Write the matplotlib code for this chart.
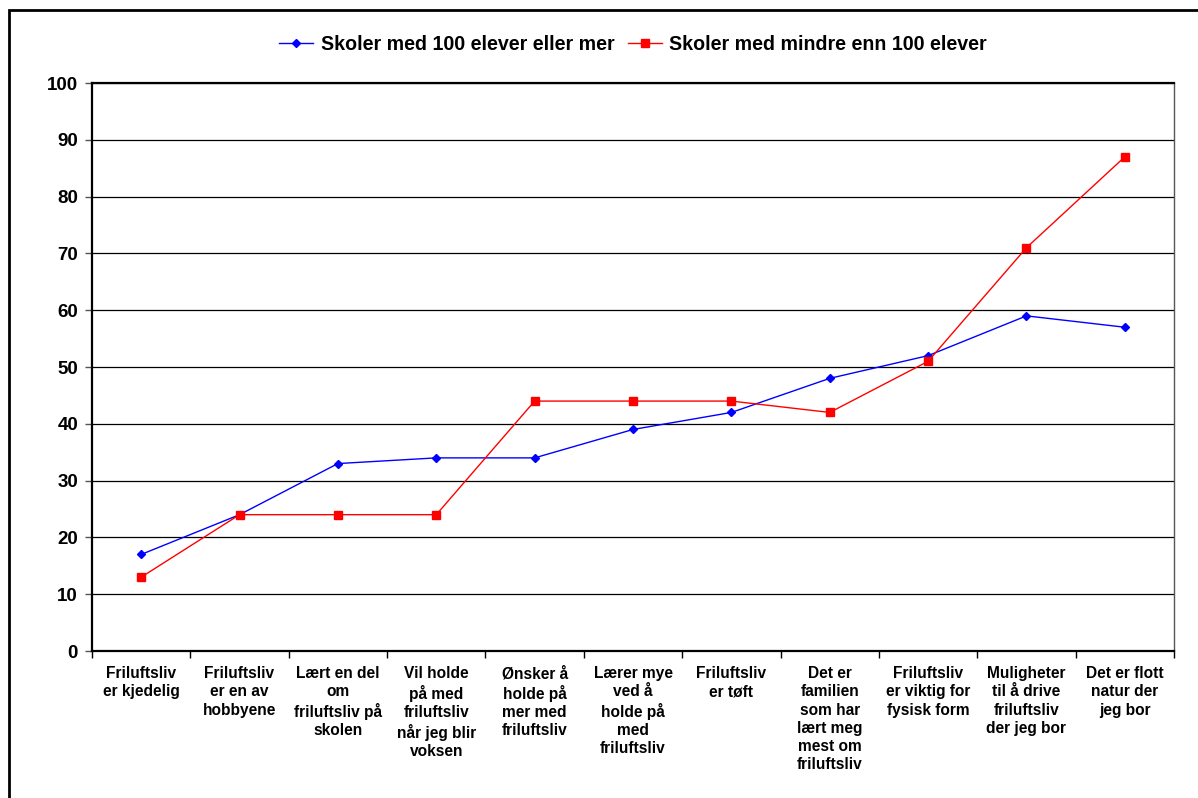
import matplotlib
matplotlib.use('Agg')
import matplotlib.pyplot as plt
from matplotlib.patches import Rectangle

#%% DATA

categories = ['Friluftsliv\ner kjedelig',
              'Friluftsliv\ner en av\nhobbyene',
              'Lært en del\nom\nfriluftsliv på\nskolen',
              'Vil holde\npå med\nfriluftsliv\nnår jeg blir\nvoksen',
              'Ønsker å\nholde på\nmer med\nfriluftsliv',
              'Lærer mye\nved å\nholde på\nmed\nfriluftsliv',
              'Friluftsliv\ner tøft',
              'Det er\nfamilien\nsom har\nlært meg\nmest om\nfriluftsliv',
              'Friluftsliv\ner viktig for\nfysisk form',
              'Muligheter\ntil å drive\nfriluftsliv\nder jeg bor',
              'Det er flott\nnatur der\njeg bor']

store = [17, 24, 33, 34, 34, 39, 42, 48, 52, 59, 57]
sma = [13, 24, 24, 24, 44, 44, 44, 42, 51, 71, 87]

label_store = 'Skoler med 100 elever eller mer'
label_sma = 'Skoler med mindre enn 100 elever'

#%% PLOT

plt.rcParams['font.family'] = ['Liberation Sans', 'DejaVu Sans']
plt.rcParams['font.weight'] = 'bold'

W, H = 1198, 798
fig = plt.figure(figsize=(W/100, H/100), dpi=100)
ax = fig.add_axes([92/W, 1 - 651/H, (1174-92)/W, (651-83)/H])

x = list(range(len(categories)))
ax.plot(x, store, color='#0000ff', lw=1.0, marker='D', ms=4.5,
        label=label_store)
ax.plot(x, sma, color='#ff0000', lw=1.0, marker='s', ms=5.5,
        label=label_sma)

ax.set_xlim(-0.5, len(categories) - 0.5)
ax.set_ylim(0, 100)
ax.set_yticks(range(0, 101, 10))
ax.yaxis.grid(True, color='black', lw=0.9)
ax.set_axisbelow(True)

ax.set_xticks(x)
ax.set_xticklabels(categories, fontsize=11.2, fontweight='bold',
                   linespacing=1.26, va='top')
ax.set_xticks([i - 0.5 for i in range(len(categories) + 1)], minor=True)
ax.tick_params(axis='x', which='major', length=0, pad=11)
ax.tick_params(axis='x', which='minor', length=5, width=1, color='black')
ax.tick_params(axis='y', length=5, width=1, color='#555555', pad=5,
               labelsize=13.5)
for lab in ax.get_yticklabels():
    lab.set_fontweight('bold')

for side in ['left', 'top', 'bottom']:
    ax.spines[side].set_linewidth(1.6)
    ax.spines[side].set_color('black')
ax.spines['right'].set_linewidth(1.0)
ax.spines['right'].set_color('#555555')

fig.legend(loc='center', bbox_to_anchor=(633/W, 1 - 44/H), ncol=2,
           frameon=False, handlelength=1.75, columnspacing=0.7,
           handletextpad=0.37, prop={'weight': 'bold', 'size': 14.1})

# outer frame
fig.patches.append(Rectangle((9/W, -0.05), 1.2, 1 - 10/H + 0.05,
                             transform=fig.transFigure, fill=False,
                             lw=2, ec='black'))

fig.savefig('out.png', dpi=100)
